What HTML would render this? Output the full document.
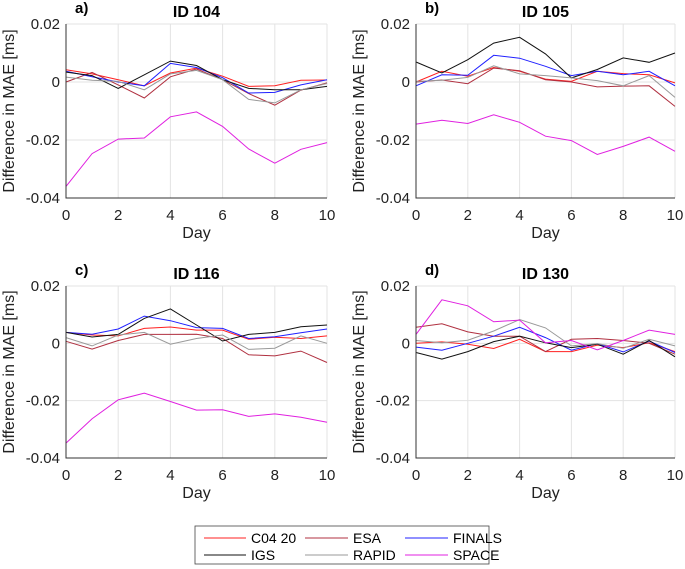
<!DOCTYPE html>
<html><head><meta charset="utf-8"><style>
body{margin:0;background:#fff}
svg{display:block;font-family:"Liberation Sans",Arial,sans-serif}
</style></head><body>
<svg id="fig" width="685" height="569" viewBox="0 0 685 569">
<g id="panels"></g>
<g>
<rect x="195" y="526" width="294" height="38" fill="#fff" stroke="#444" stroke-width="0.8"/>
<line x1="204" y1="538" x2="246" y2="538" stroke="#ff2020" stroke-width="1"/><text x="251" y="543" font-size="14">C04 20</text>
<line x1="305" y1="538" x2="348" y2="538" stroke="#b03040" stroke-width="1"/><text x="353" y="543" font-size="14">ESA</text>
<line x1="405" y1="538" x2="448" y2="538" stroke="#2020ff" stroke-width="1"/><text x="453" y="543" font-size="14">FINALS</text>
<line x1="204" y1="555" x2="246" y2="555" stroke="#111" stroke-width="1"/><text x="251" y="560" font-size="14">IGS</text>
<line x1="305" y1="555" x2="348" y2="555" stroke="#999" stroke-width="1"/><text x="353" y="560" font-size="14">RAPID</text>
<line x1="405" y1="555" x2="448" y2="555" stroke="#e020e0" stroke-width="1"/><text x="453" y="560" font-size="14">SPACE</text>
</g>
</svg>
<script>
const days=[0,1,2,3,4,5,6,7,8,9,10];
const yTicks=[0.02,0,-0.02,-0.04];
const yTickLabels=["0.02","0","-0.02","-0.04"];
const xTicks=[0,2,4,6,8,10];
const seriesNames=["C04 20","ESA","FINALS","IGS","RAPID","SPACE"];
const seriesColors=["#ff2020","#b03040","#2020ff","#111111","#999999","#e020e0"];
const panelTitles=["ID 104","ID 105","ID 116","ID 130"];
const panelLetters=["a)","b)","c)","d)"];
const a_c04=[0.0042,0.0028,0.0008,-0.0013,0.0031,0.0048,0.002,-0.0015,-0.0013,0.0006,0.0007];
const a_esa=[0,0.0033,-0.001,-0.0055,0.0018,0.0045,0.0008,-0.004,-0.008,-0.0028,-0.0003];
const a_finals=[0.0037,0.0018,0,-0.0013,0.0064,0.005,0.0015,-0.0038,-0.0036,-0.001,0.0008];
const a_igs=[0.0034,0.0022,-0.0022,0.0025,0.0072,0.0057,0.0008,-0.0022,-0.0027,-0.0027,-0.0015];
const a_rapid=[0.0017,0.0006,0.0002,-0.0027,0.0028,0.004,0.0008,-0.006,-0.0072,-0.0027,-0.0005];
const a_space=[-0.036,-0.0247,-0.0197,-0.0193,-0.012,-0.0103,-0.0153,-0.0231,-0.028,-0.0232,-0.0209];
const b_c04=[0,0.0037,0.002,0.005,0.0037,0.001,0.0002,0.0037,0.0029,0.0025,-0.0003];
const b_esa=[0,0.0007,-0.0006,0.0048,0.0039,0.0008,0,-0.0017,-0.0014,-0.0013,-0.0084];
const b_finals=[-0.0013,0.0025,0.0023,0.0092,0.0082,0.0054,0.0022,0.0037,0.0025,0.0037,-0.0013];
const b_igs=[0.0069,0.0031,0.0077,0.0134,0.0154,0.0097,0.0014,0.0043,0.0083,0.0068,0.01];
const b_rapid=[0.0002,0.0006,0.0016,0.0056,0.0028,0.0022,0.0014,0.0005,-0.0013,0.0022,-0.0053];
const b_space=[-0.0145,-0.0132,-0.0143,-0.0113,-0.0139,-0.0187,-0.0202,-0.025,-0.0222,-0.019,-0.0239];
const c_c04=[0.0038,0.0029,0.0026,0.0052,0.0057,0.0046,0.0046,0.0014,0.0021,0.0017,0.0026];
const c_esa=[0.0007,-0.002,0.001,0.0031,0.0031,0.0032,0.0017,-0.004,-0.0044,-0.0027,-0.0067];
const c_finals=[0.0038,0.0032,0.005,0.0095,0.0079,0.0055,0.0052,0.0017,0.0023,0.0037,0.005];
const c_igs=[0.0038,0.0022,0.0031,0.0087,0.012,0.0064,0.0008,0.0031,0.0038,0.0058,0.0064];
const c_rapid=[0.002,-0.0009,0.0029,0.0038,-0.0003,0.0017,0.0029,-0.0021,-0.0017,0.0026,0];
const c_space=[-0.0348,-0.0263,-0.0197,-0.0174,-0.0203,-0.0233,-0.0232,-0.0255,-0.0246,-0.0258,-0.0275];
const d_c04=[0,0.0005,-0.0003,-0.0018,0.0014,-0.0029,-0.0029,-0.0006,-0.0015,0.0002,-0.0029];
const d_esa=[0.0056,0.0068,0.004,0.0025,0.0025,-0.0029,0.0014,0.0017,0.001,0,-0.0038];
const d_finals=[-0.0013,-0.0024,0,0.0025,0.0056,0.002,-0.0024,-0.0001,-0.003,0.0008,-0.0032];
const d_igs=[-0.0032,-0.0055,-0.0029,0.0006,0.0025,0.0002,-0.0015,-0.0003,-0.0038,0.001,-0.0047];
const d_rapid=[0.001,0.0002,0.0011,0.0043,0.0083,0.0054,-0.0009,-0.0001,-0.0017,0.0014,-0.0009];
const d_space=[0.0031,0.0152,0.0131,0.0075,0.0081,0.0002,0.001,-0.0023,0.001,0.0046,0.0031];
const panelData=[[a_c04,a_esa,a_finals,a_igs,a_rapid,a_space],[b_c04,b_esa,b_finals,b_igs,b_rapid,b_space],[c_c04,c_esa,c_finals,c_igs,c_rapid,c_space],[d_c04,d_esa,d_finals,d_igs,d_rapid,d_space]];
const boxes=[{l:66,r:327,t:24,b:198},{l:416,r:675,t:24,b:198},{l:66,r:327,t:286,b:458},{l:416,r:675,t:286,b:458}];
const NS="http://www.w3.org/2000/svg";
const root=document.getElementById('panels');
function mk(tag,attrs,parent){const e=document.createElementNS(NS,tag);for(const k in attrs)e.setAttribute(k,attrs[k]);parent.appendChild(e);return e;}
boxes.forEach((B,p)=>{
  const g=mk('g',{},root);
  
  
  const xs=v=>B.l+(v-0)/(10-0)*(B.r-B.l);
  const ys=v=>B.t+(0.02-v)/(0.06)*(B.b-B.t);
  xTicks.forEach(t=>{
    mk('line',{x1:xs(t),x2:xs(t),y1:B.t,y2:B.b,stroke:'#e3e3e3','stroke-width':1},g);
    const tx=mk('text',{x:xs(t),y:B.b+22,'font-size':15,'text-anchor':'middle',fill:'#222'},g);
    tx.textContent=t;
    
    
  });
  yTicks.forEach((t,i)=>{
    mk('line',{x1:B.l,x2:B.r,y1:ys(t),y2:ys(t),stroke:'#e3e3e3','stroke-width':1},g);
    const tx=mk('text',{x:B.l-6,y:ys(t)+5,'font-size':15,'text-anchor':'end',fill:'#222'},g);
    tx.textContent=yTickLabels[i];
    
    
  });
  panelData[p].forEach((s,k)=>{
    const pts=s.map((v,i)=>xs(days[i]).toFixed(1)+','+ys(v).toFixed(1)).join(' ');
    const pl=mk('polyline',{points:pts,fill:'none',stroke:seriesColors[k],'stroke-width':1},g);
    
    
  });
  mk('path',{d:`M${B.l} ${B.t}V${B.b}H${B.r}`,fill:'none',stroke:'#333','stroke-width':1},g);
  const ti=mk('text',{x:(B.l+B.r)/2,y:B.t-7,'font-size':16,'font-weight':'bold','text-anchor':'middle'},g);
  ti.textContent=panelTitles[p];
  
  
  const le=mk('text',{x:B.l+9,y:B.t-11,'font-size':15,'font-weight':'bold'},g);
  le.textContent=panelLetters[p];
  
  
  const xl=mk('text',{x:(B.l+B.r)/2,y:B.b+40,'font-size':16,'text-anchor':'middle',fill:'#222'},g);
  xl.textContent='Day';
  
  
  const cy=(B.t+B.b)/2, cx=B.l-52;
  const yl=mk('text',{x:cx,y:cy,'font-size':16,'text-anchor':'middle',fill:'#222',transform:`rotate(-90 ${cx} ${cy})`},g);
  yl.textContent='Difference in MAE [ms]';
  
  
});
</script>
</body></html>
